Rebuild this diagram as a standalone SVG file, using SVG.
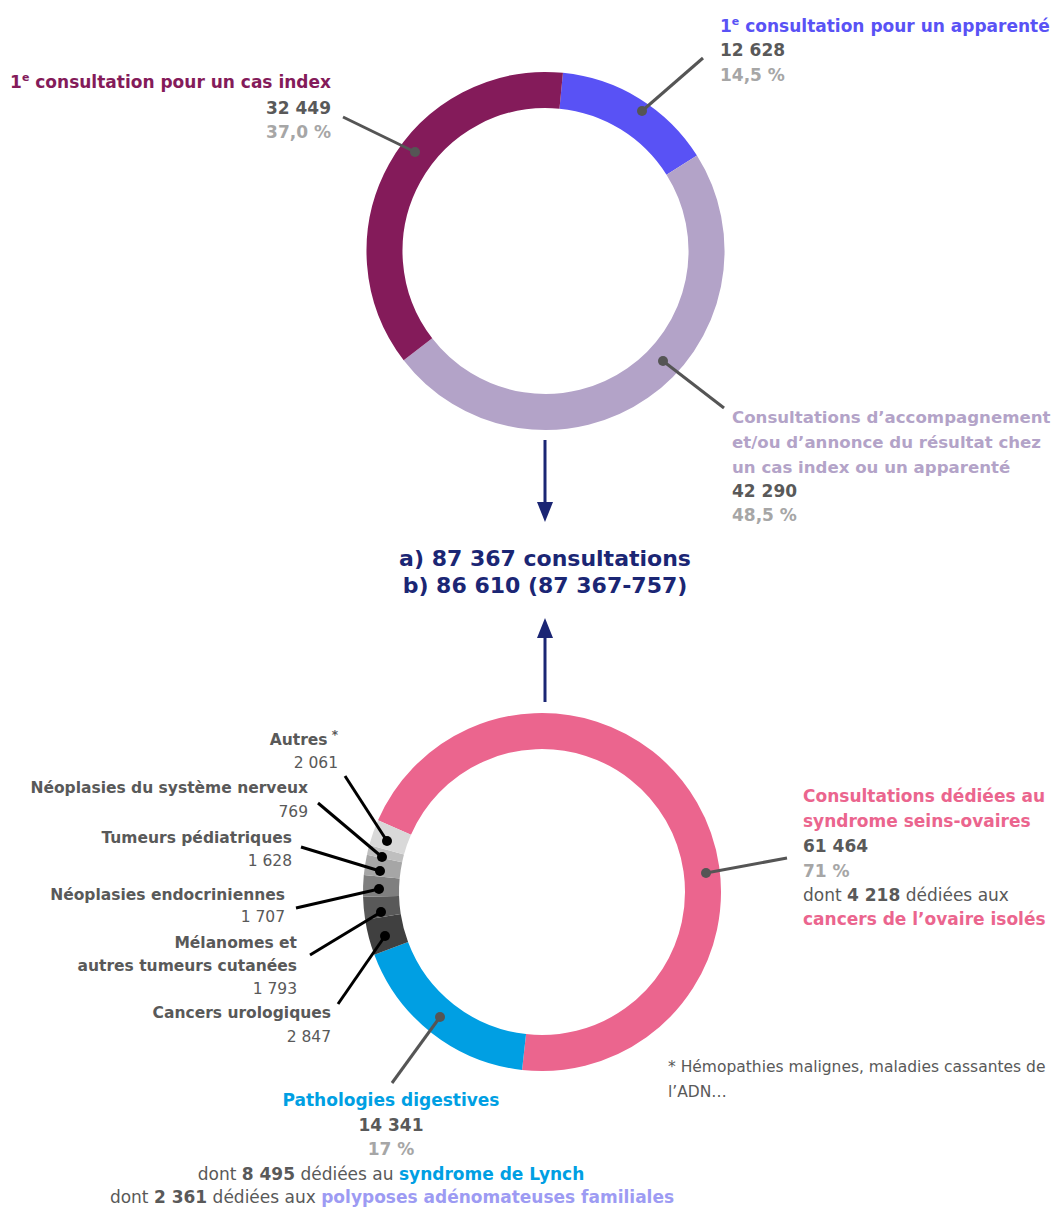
<svg xmlns="http://www.w3.org/2000/svg" width="1057" height="1209" viewBox="0 0 1057 1209">
<defs>
<style>
text{font-family:"DejaVu Sans","Liberation Sans",sans-serif;}
.b{font-weight:bold;}
.l{font-size:17px;}
.s{font-size:15.5px;}
.dk{fill:#595959;}
.lt{fill:#A6A6A6;}
.arc{fill:none;stroke-width:36;}
.lead{stroke:#555;stroke-width:3;fill:none;}
.leadk{stroke:#000;stroke-width:3;fill:none;}
.navy{fill:#1B2674;}
</style>
<marker id="ah" viewBox="0 0 20 16" refX="4" refY="8" markerWidth="20" markerHeight="16" markerUnits="userSpaceOnUse" orient="auto">
<path d="M0,0 L20,8 L0,16 Z" fill="#1B2674"/>
</marker>
</defs>
<rect width="1057" height="1209" fill="#ffffff"/>

<g id="donut-top">
<path class="arc" stroke="#5952F5" d="M561.21,90.77 A161,161 0 0 1 681.74,165.20"/>
<path class="arc" stroke="#B3A3C8" d="M681.74,165.20 A161,161 0 0 1 417.94,349.23"/>
<path class="arc" stroke="#841B5A" d="M417.94,349.23 A161,161 0 0 1 561.21,90.77"/>
</g>

<g id="donut-bottom">
<path class="arc" stroke="#EB658E" d="M394.47,827.54 A161,161 0 1 1 524.05,1052.0"/>
<path class="arc" stroke="#009FE3" d="M524.05,1052.0 A161,161 0 0 1 391.20,948.38"/>
<path class="arc" stroke="#404040" d="M391.20,948.38 A161,161 0 0 1 382.93,916.85"/>
<path class="arc" stroke="#595959" d="M382.93,916.85 A161,161 0 0 1 381.06,896.38"/>
<path class="arc" stroke="#7F7F7F" d="M381.06,896.38 A161,161 0 0 1 381.72,876.82"/>
<path class="arc" stroke="#A6A6A6" d="M381.72,876.82 A161,161 0 0 1 384.55,858.39"/>
<path class="arc" stroke="#BFBFBF" d="M384.55,858.39 A161,161 0 0 1 386.63,849.82"/>
<path class="arc" stroke="#D9D9D9" d="M386.63,849.82 A161,161 0 0 1 394.47,827.54"/>
</g>

<g id="connectors">
<line class="lead" x1="343" y1="117" x2="415" y2="152"/>
<line class="lead" x1="703" y1="58" x2="642" y2="111"/>
<line class="lead" x1="724" y1="408" x2="663" y2="361"/>
<line class="lead" x1="787" y1="858" x2="706" y2="873"/>
<line class="lead" x1="392" y1="1083" x2="440" y2="1017"/>
<line class="leadk" x1="345" y1="776" x2="387" y2="841"/>
<line class="leadk" x1="318" y1="803" x2="382" y2="857"/>
<line class="leadk" x1="301" y1="847" x2="380" y2="871"/>
<line class="leadk" x1="296" y1="908" x2="379" y2="889"/>
<line class="leadk" x1="310" y1="955" x2="381" y2="912"/>
<line class="leadk" x1="338" y1="1004" x2="385" y2="936"/>
<g fill="#555">
<circle cx="415" cy="152" r="5"/>
<circle cx="642" cy="111" r="5"/>
<circle cx="663" cy="361" r="5"/>
<circle cx="706" cy="873" r="5"/>
<circle cx="440" cy="1017" r="5"/>
</g>
<g fill="#000">
<circle cx="387" cy="841" r="5"/>
<circle cx="382" cy="857" r="5"/>
<circle cx="380" cy="871" r="5"/>
<circle cx="379" cy="889" r="5"/>
<circle cx="381" cy="912" r="5"/>
<circle cx="385" cy="936" r="5"/>
</g>
<line x1="545" y1="440" x2="545" y2="506" stroke="#1B2674" stroke-width="3" marker-end="url(#ah)"/>
<line x1="545" y1="702" x2="545" y2="634" stroke="#1B2674" stroke-width="3" marker-end="url(#ah)"/>
</g>

<g id="label-cas-index" text-anchor="end">
<text class="b l" x="331" y="88" fill="#841B5A">1<tspan font-size="11" dy="-7">e</tspan><tspan dy="7"> consultation pour un cas index</tspan></text>
<text class="b l dk" x="331" y="114">32 449</text>
<text class="b l lt" x="331" y="138">37,0 %</text>
</g>

<g id="label-apparente">
<text class="b l" x="720" y="32" fill="#5952F5">1<tspan font-size="11" dy="-7">e</tspan><tspan dy="7"> consultation pour un apparenté</tspan></text>
<text class="b l dk" x="720" y="56">12 628</text>
<text class="b l lt" x="720" y="81">14,5 %</text>
</g>

<g id="label-accompagnement">
<text class="b" font-size="16.6" x="732" y="423" fill="#B3A3C8">Consultations d’accompagnement</text>
<text class="b" font-size="16.6" x="732" y="448" fill="#B3A3C8">et/ou d’annonce du résultat chez</text>
<text class="b" font-size="16.6" x="732" y="473" fill="#B3A3C8">un cas index ou un apparenté</text>
<text class="b l dk" x="732" y="497">42 290</text>
<text class="b l lt" x="732" y="521">48,5 %</text>
</g>

<g id="label-total" text-anchor="middle">
<text class="b navy" x="545" y="566" font-size="22">a) 87 367 consultations</text>
<text class="b navy" x="545" y="593" font-size="22">b) 86 610 (87 367-757)</text>
</g>

<g id="label-seins-ovaires">
<text class="b l" x="803" y="802" fill="#EB658E">Consultations dédiées au</text>
<text class="b l" x="803" y="827" fill="#EB658E">syndrome seins-ovaires</text>
<text class="b l dk" x="803" y="852">61 464</text>
<text class="b l lt" x="803" y="877">71 %</text>
<text class="l dk" x="803" y="901">dont <tspan class="b">4 218</tspan> dédiées aux</text>
<text class="b l" x="803" y="925" fill="#EB658E">cancers de l’ovaire isolés</text>
</g>

<g id="label-digestives" text-anchor="middle">
<text class="b l" x="391" y="1106" fill="#009FE3">Pathologies digestives</text>
<text class="b l dk" x="391" y="1131">14 341</text>
<text class="b l lt" x="391" y="1155">17 %</text>
<text class="l dk" x="391" y="1180">dont <tspan class="b">8 495</tspan> dédiées au <tspan class="b" fill="#009FE3">syndrome de Lynch</tspan></text>
<text class="l dk" x="392" y="1203">dont <tspan class="b">2 361</tspan> dédiées aux <tspan class="b" fill="#9D9BF3">polyposes adénomateuses familiales</tspan></text>
</g>

<g id="label-autres" text-anchor="end">
<text class="b s dk" x="338" y="745">Autres<tspan font-size="12" dy="-6"> *</tspan></text>
<text class="s dk" x="338" y="768">2 061</text>
</g>
<g id="label-nerveux" text-anchor="end">
<text class="b s dk" x="308" y="793">Néoplasies du système nerveux</text>
<text class="s dk" x="308" y="817">769</text>
</g>
<g id="label-pediatriques" text-anchor="end">
<text class="b s dk" x="292" y="843">Tumeurs pédiatriques</text>
<text class="s dk" x="292" y="866">1 628</text>
</g>
<g id="label-endocriniennes" text-anchor="end">
<text class="b s dk" x="285" y="900">Néoplasies endocriniennes</text>
<text class="s dk" x="285" y="922">1 707</text>
</g>
<g id="label-melanomes" text-anchor="end">
<text class="b s dk" x="297" y="948">Mélanomes et</text>
<text class="b s dk" x="297" y="971">autres tumeurs cutanées</text>
<text class="s dk" x="297" y="994">1 793</text>
</g>
<g id="label-urologiques" text-anchor="end">
<text class="b s dk" x="331" y="1018">Cancers urologiques</text>
<text class="s dk" x="331" y="1042">2 847</text>
</g>

<g id="footnote">
<text class="s dk" x="668" y="1072">* Hémopathies malignes, maladies cassantes de</text>
<text class="s dk" x="668" y="1097">l’ADN…</text>
</g>
</svg>
